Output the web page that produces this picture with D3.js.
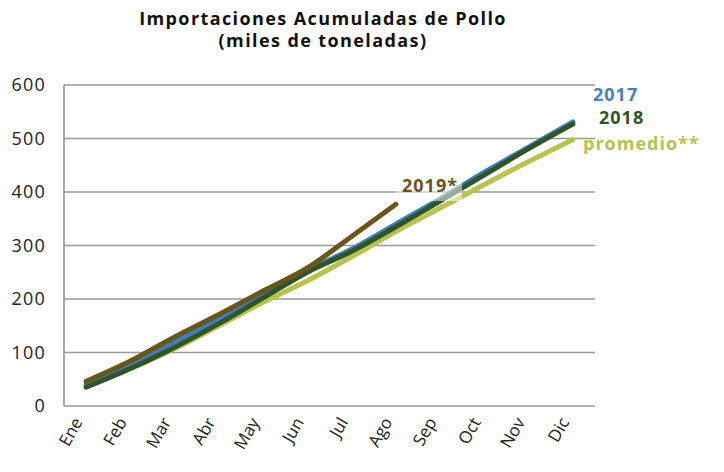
<!DOCTYPE html>
<html>
<head>
<meta charset="utf-8">
<script src="https://cdn.jsdelivr.net/npm/d3@7"></script>
<style>
  body { margin: 0; background: #fff; }
  svg { font-family: "Open Sans", "Noto Sans", sans-serif; }
</style>
</head>
<body>
<div id="chart"></div>
<script>
// datos (miles de toneladas, acumulado)
var months = ['Ene','Feb','Mar','Abr','May','Jun','Jul','Ago','Sep','Oct','Nov','Dic']
var yTicks = [0, 100, 200, 300, 400, 500, 600]
var v2017 = [40, 77, 120, 163, 207, 254, 293, 340, 387, 437, 484, 531]
var v2018 = [35, 70, 110, 154, 202, 250, 289, 335, 383, 432, 481, 527]
var v2019 = [46, 84, 129, 171, 215, 258, 317, 377]
var vProm = [37, 70, 107, 150, 194, 234, 279, 326, 370, 414, 457, 498]

var width = 724
var height = 472
var plotLeft = 64
var plotRight = 595
var plotTop = 85
var plotBottom = 406

var svg = d3.select('#chart').append('svg')
  .attr('width', width)
  .attr('height', height)

var x = d3.scaleBand().domain(months).range([plotLeft, plotRight])
var y = d3.scaleLinear().domain([0, 600]).range([plotBottom, plotTop])

// titulo
var title = svg.append('text')
  .attr('x', 323)
  .attr('y', 25)
  .attr('text-anchor', 'middle')
  .attr('font-weight', 700)
  .attr('font-size', 18)
  .attr('letter-spacing', 1.4)
  .attr('fill', '#111')
title.append('tspan').attr('x', 323).text('Importaciones Acumuladas de Pollo')
title.append('tspan').attr('x', 323).attr('dy', 22).text('(miles de toneladas)')

// rejilla
svg.append('g')
  .selectAll('line')
  .data(yTicks)
  .enter()
  .append('line')
  .attr('x1', plotLeft)
  .attr('x2', plotRight)
  .attr('y1', function(d){ return y(d) })
  .attr('y2', function(d){ return y(d) })
  .attr('stroke', '#999')
  .attr('stroke-width', 1.7)

svg.append('line')
  .attr('x1', plotLeft).attr('x2', plotLeft)
  .attr('y1', plotTop).attr('y2', plotBottom)
  .attr('stroke', '#999')
  .attr('stroke-width', 1.7)

// eje y
var yAxis = svg.append('g')
  .attr('transform', 'translate(' + (plotLeft - 18) + ',0)')
  .call(d3.axisLeft(y).tickValues(yTicks).tickSize(0).tickPadding(0))
yAxis.select('.domain').remove()
yAxis.selectAll('text')
  .attr('font-size', 18)
  .attr('letter-spacing', 1.2)
  .attr('font-family', '"Open Sans", sans-serif')
  .attr('fill', '#222')

// eje x
var xAxis = svg.append('g')
  .attr('transform', 'translate(0,' + plotBottom + ')')
  .call(d3.axisBottom(x).tickSize(0).tickPadding(0))
xAxis.select('.domain').remove()
xAxis.selectAll('text')
  .attr('font-size', 17)
  .attr('font-family', '"Open Sans", sans-serif')
  .attr('fill', '#222')
  .attr('text-anchor', 'end')
  .attr('dy', 0)
  .attr('transform', 'translate(-3,16) rotate(-60)')

var line = d3.line()
  .x(function(d, i){ return x(months[i]) + x.bandwidth() / 2 })
  .y(function(d){ return y(d) })
  .curve(d3.curveMonotoneX)

var series = [
  { name: 'promedio', values: vProm, color: '#b7c24f' },
  { name: '2017', values: v2017, color: '#3f7dbb' },
  { name: '2018', values: v2018, color: '#2f5428' },
  { name: '2019', values: v2019, color: '#6a5519' }
]

svg.selectAll('path.serie')
  .data(series)
  .enter()
  .append('path')
  .attr('class', 'serie')
  .attr('d', function(d){ return line(d.values) })
  .attr('fill', 'none')
  .attr('stroke', function(d){ return d.color })
  .attr('stroke-width', 5)
  .attr('stroke-linecap', 'round')

// caja translucida detras de 2019*
svg.append('rect')
  .attr('x', 395).attr('y', 181)
  .attr('width', 67).attr('height', 20)
  .attr('fill', '#fff')
  .attr('opacity', 0.5)

var labels = [
  { text: '2017', x: 593, y: 101, color: '#4a80c0' },
  { text: '2018', x: 599, y: 124, color: '#2f5428' },
  { text: 'promedio**', x: 583, y: 150, color: '#b7c24f' },
  { text: '2019*', x: 402, y: 192, color: '#6a5519' }
]

svg.selectAll('text.lbl')
  .data(labels)
  .enter()
  .append('text')
  .attr('class', 'lbl')
  .attr('x', function(d){ return d.x })
  .attr('y', function(d){ return d.y })
  .attr('font-size', 18)
  .attr('letter-spacing', 1)
  .attr('font-weight', 700)
  .attr('fill', function(d){ return d.color })
  .text(function(d){ return d.text })
</script>
</body>
</html>
